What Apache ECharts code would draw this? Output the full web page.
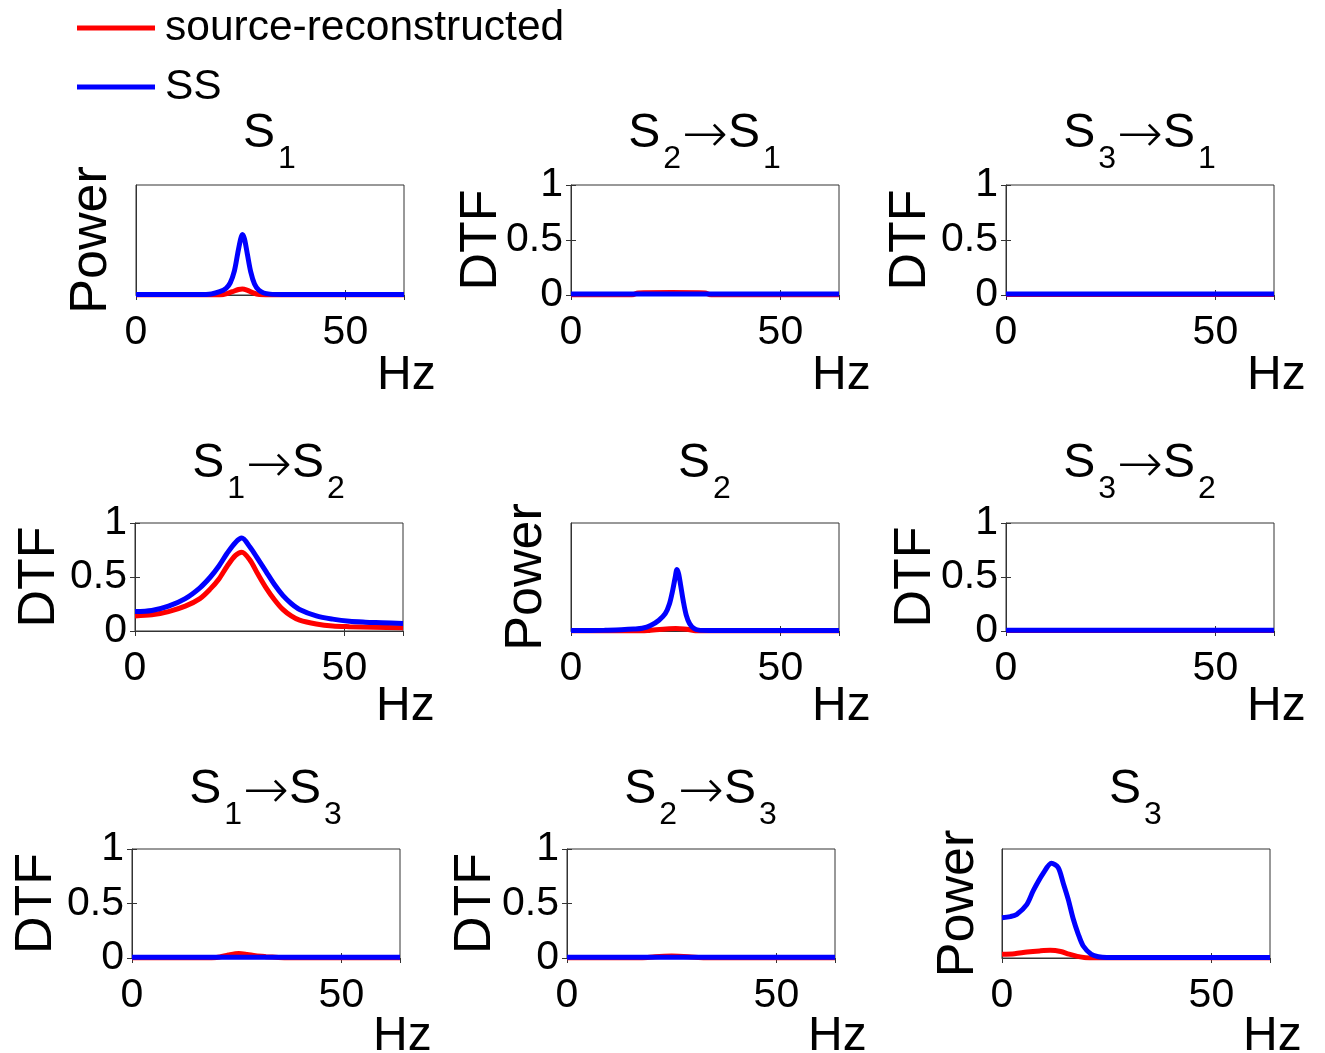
<!DOCTYPE html>
<html>
<head>
<meta charset="utf-8">
<script src="https://cdn.jsdelivr.net/npm/echarts@6/dist/echarts.min.js"></script>
<style>
  html, body { margin: 0; background: #fff; }
  #chart { width: 1325px; height: 1053px; }
</style>
</head>
<body>
<div id="chart"></div>
<script>
// panels in row order: 3x3 matrix, diagonal = power, off-diagonal = DTF
const panelTitles = [
  "{s|S}{b|1}", "{s|S}{b|2}{a|→}{s|S}{b|1}", "{s|S}{b|3}{a|→}{s|S}{b|1}",
  "{s|S}{b|1}{a|→}{s|S}{b|2}", "{s|S}{b|2}", "{s|S}{b|3}{a|→}{s|S}{b|2}",
  "{s|S}{b|1}{a|→}{s|S}{b|3}", "{s|S}{b|2}{a|→}{s|S}{b|3}", "{s|S}{b|3}",
];
const panelKinds = ["Power", "DTF", "DTF", "DTF", "Power", "DTF", "DTF", "DTF", "Power"];
const seriesNames = ["source-reconstructed", "SS"];
const xTicks = { min: 0, max: 64, step: 50 };
const dtfTicks = { min: 0, max: 1, step: 0.5 };

// [Hz, value]
const s1Src = [[0, 0], [20, 0], [21.5, 0.01], [23, 0.03], [24.5, 0.05], [25.4, 0.055], [26.5, 0.045], [28, 0.02], [29.5, 0.004], [31, 0], [64, 0]];
const s1SS = [[0, 0.005], [15, 0.005], [18, 0.01], [20, 0.03], [21.5, 0.06], [22.5, 0.11], [23.5, 0.22], [24.3, 0.38], [25, 0.51], [25.4, 0.55], [25.9, 0.51], [26.6, 0.37], [27.4, 0.21], [28.3, 0.1], [29.3, 0.045], [30.5, 0.018], [32, 0.008], [35, 0.005], [64, 0.005]];

const d21Src = [[0, 0], [14.5, 0], [16, 0.018], [24, 0.022], [32, 0.018], [33.5, 0], [64, 0]];
const d21SS = [[0, 0.008], [64, 0.008]];

const d31Src = [[0, 0.005], [64, 0.005]];
const d31SS = [[0, 0.008], [64, 0.008]];

const d12Src = [[0, 0.14], [4, 0.15], [8, 0.18], [12, 0.23], [15.5, 0.3], [18, 0.39], [20, 0.48], [22, 0.6], [24, 0.7], [25.5, 0.73], [27.4, 0.66], [29.3, 0.53], [31.3, 0.4], [33.3, 0.29], [35.3, 0.2], [37.3, 0.14], [39.3, 0.1], [43.3, 0.065], [47.2, 0.046], [51.2, 0.04], [57, 0.035], [64, 0.03]];
const d12SS = [[0, 0.18], [4, 0.19], [8, 0.23], [12, 0.3], [15.5, 0.4], [18, 0.5], [20, 0.6], [22, 0.72], [24, 0.82], [25.5, 0.86], [27.4, 0.78], [29.3, 0.67], [31.3, 0.55], [33.3, 0.43], [35.3, 0.33], [37.3, 0.255], [39.3, 0.2], [43.3, 0.14], [47.2, 0.11], [51.2, 0.09], [55, 0.082], [59, 0.077], [64, 0.07]];

const s2Src = [[0, 0], [17, 0], [19, 0.008], [22, 0.016], [25, 0.022], [27, 0.018], [29, 0.007], [30, 0], [64, 0]];
const s2SS = [[0, 0.005], [8, 0.007], [12, 0.012], [15, 0.018], [17, 0.025], [19, 0.05], [21, 0.1], [22.5, 0.16], [23.5, 0.25], [24.3, 0.38], [24.9, 0.5], [25.3, 0.57], [25.7, 0.53], [26.2, 0.42], [26.8, 0.28], [27.5, 0.15], [28.3, 0.07], [29.3, 0.025], [30.5, 0.008], [33, 0.005], [64, 0.005]];

const d32Src = [[0, 0.005], [64, 0.005]];
const d32SS = [[0, 0.008], [64, 0.008]];

const d13Src = [[0, 0], [19, 0], [21, 0.01], [23, 0.028], [25.5, 0.042], [27.5, 0.033], [29.5, 0.02], [32, 0.012], [35, 0.005], [37, 0], [64, 0]];
const d13SS = [[0, 0.008], [64, 0.008]];

const d23Src = [[0, 0], [18, 0], [21, 0.012], [25, 0.018], [29, 0.012], [33, 0], [64, 0]];
const d23SS = [[0, 0.008], [64, 0.008]];

const s3Src = [[0, 0.035], [3, 0.04], [6, 0.055], [9, 0.065], [11.5, 0.07], [14, 0.06], [16, 0.035], [18, 0.015], [20, 0.003], [22, 0], [64, 0]];
const s3SS = [[0, 0.37], [2, 0.38], [3.5, 0.4], [5.9, 0.49], [7.5, 0.62], [9.9, 0.78], [11.8, 0.87], [13.4, 0.83], [14.6, 0.69], [15.8, 0.54], [17, 0.36], [18.2, 0.22], [19.4, 0.11], [21.3, 0.035], [23, 0.012], [25, 0.005], [64, 0.005]];

const srcCurves = [s1Src, d21Src, d31Src, d12Src, s2Src, d32Src, d13Src, d23Src, s3Src];
const ssCurves = [s1SS, d21SS, d31SS, d12SS, s2SS, d32SS, d13SS, d23SS, s3SS];

// layout
const rowTops = [185, 523, 849];
const rowHeights = [110, 108, 109];
const colLefts = [[136, 571, 1006], [135, 571, 1006], [132, 567, 1002]];
const plotWidth = 268;
const titleTops = [110, 440, 766];
const hzOffsets = [81, 76, 79];
const yNameGaps = [18, 63, 69, 69, 18, 64, 69, 65, 17];
const font = "Liberation Sans, Arial, Helvetica, sans-serif";
const arrowFont = "'DejaVu Sans Light', 'Liberation Sans', sans-serif";
const colors = ["#ff0000", "#0000ff"];

function buildOption() {
  const grid = [];
  const xAxis = [];
  const yAxis = [];
  const title = [];
  const series = [];
  const graphic = [];

  panelKinds.forEach((kind, i) => {
    const r = Math.floor(i / 3);
    const c = i % 3;
    const left = colLefts[r][c];
    const top = rowTops[r];
    const isDtf = kind === "DTF";

    grid.push({
      left, top, width: plotWidth, height: rowHeights[r],
      show: true, borderColor: "#333", borderWidth: 1,
      containLabel: false, outerBoundsMode: "none",
    });

    title.push({
      text: panelTitles[i],
      left: left + plotWidth / 2,
      top: titleTops[r],
      textAlign: "center",
      textVerticalAlign: "top",
      padding: 0,
      textStyle: {
        fontWeight: "normal",
        rich: {
          s: { fontSize: 48, fontFamily: font, fontWeight: "normal", color: "#000", lineHeight: 48, verticalAlign: "top" },
          a: { fontSize: 55, fontFamily: arrowFont, fontWeight: 200, color: "#000", lineHeight: 48, verticalAlign: "top" },
          b: { fontSize: 32, fontFamily: font, fontWeight: "normal", color: "#000", lineHeight: 65, verticalAlign: "bottom", padding: [0, 1, 0, 3] },
        },
      },
    });

    // axis name "Hz" sits below-right of each box
    graphic.push({
      type: "text",
      x: left + plotWidth - 27,
      y: top + rowHeights[r] + hzOffsets[r],
      silent: true,
      style: { text: "Hz", fill: "#000", font: "48px " + font, align: "left", verticalAlign: "middle" },
    });

    const tick = { show: true, inside: true, length: 5, lineStyle: { color: "#333" } };
    xAxis.push({
      gridIndex: i, type: "value", position: "bottom",
      min: xTicks.min, max: xTicks.max, interval: xTicks.step,
      axisLine: { show: true, onZero: false, lineStyle: { color: "#333" } },
      axisTick: tick,
      splitLine: { show: false },
      axisLabel: { fontSize: 41, fontFamily: font, color: "#000", margin: 17, showMaxLabel: false },
    });
    xAxis.push({
      gridIndex: i, type: "value", position: "top",
      min: xTicks.min, max: xTicks.max, interval: xTicks.step,
      axisLine: { show: false }, axisTick: tick, axisLabel: { show: false }, splitLine: { show: false },
    });

    yAxis.push({
      gridIndex: i, type: "value", position: "left",
      min: dtfTicks.min, max: dtfTicks.max, interval: dtfTicks.step,
      axisLine: { show: true, onZero: false, lineStyle: { color: "#333" } },
      axisTick: Object.assign({}, tick, { show: isDtf }),
      splitLine: { show: false },
      axisLabel: { show: isDtf, fontSize: 41, fontFamily: font, color: "#000", margin: 8, padding: [7, 0, 0, 0] },
      name: kind, nameLocation: "middle", nameRotate: 90, nameGap: yNameGaps[i], nameMoveOverlap: false,
      nameTextStyle: { fontSize: 52, fontFamily: font, color: "#000" },
    });
    yAxis.push({
      gridIndex: i, type: "value", position: "right",
      min: dtfTicks.min, max: dtfTicks.max, interval: dtfTicks.step,
      axisLine: { show: false }, axisTick: Object.assign({}, tick, { show: isDtf }),
      axisLabel: { show: false }, splitLine: { show: false },
    });

    [srcCurves[i], ssCurves[i]].forEach((curve, k) => {
      series.push({
        name: seriesNames[k], type: "line",
        xAxisIndex: 2 * i, yAxisIndex: 2 * i,
        data: curve, symbol: "none", smooth: 0.3,
        lineStyle: { color: colors[k], width: 5 },
        itemStyle: { color: colors[k] },
      });
    });
  });

  return {
    animation: false,
    backgroundColor: "#fff",
    title, grid, xAxis, yAxis, series, graphic,
    legend: {
      orient: "vertical", left: 77, top: 3, padding: 0,
      data: seriesNames,
      icon: "rect",
      itemWidth: 78, itemHeight: 5, itemGap: 9,
      textStyle: { fontSize: 42.5, lineHeight: 50, fontFamily: font, color: "#000", padding: [0, 0, 0, 5] },
      selectedMode: false,
    },
  };
}

const chart = echarts.init(document.getElementById("chart"));
chart.setOption(buildOption());
</script>
</body>
</html>
